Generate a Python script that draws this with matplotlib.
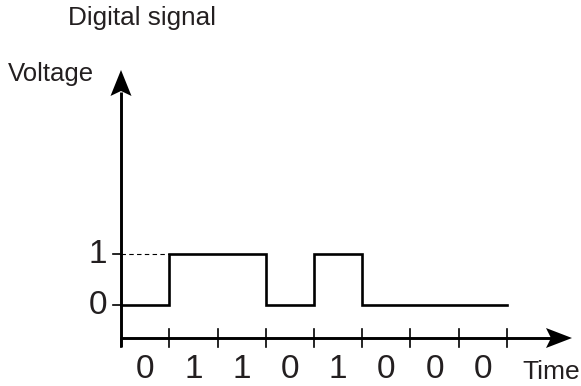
import matplotlib
matplotlib.use("Agg")
import matplotlib.pyplot as plt
from matplotlib.patches import Polygon

bits = [0, 1, 1, 0, 1, 0, 0, 0]
levels = [0, 1]
level_labels = ["0", "1"]
title = "Digital signal"
ylabel = "Voltage"
xlabel = "Time"

plt.rcParams['font.family'] = ['Liberation Sans', 'DejaVu Sans']
txt = '#231f20'

fig = plt.figure(figsize=(5.81, 3.86), dpi=100)
ax = fig.add_axes([0, 0, 1, 1])
ax.set_xlim(-2.508, 9.534)
ax.set_ylim(-1.588, 5.98)
ax.axis('off')

px_x = 1 / 48.25   # data units per pixel (x)
px_y = 1 / 51.0    # data units per pixel (y)
axis_y = -33 * px_y
n = len(bits)

# signal
xs, ys = [], []
for i, b in enumerate(bits):
    xs += [i, i + 1]
    ys += [b, b]
ax.plot(xs, ys, color='black', lw=1.9, solid_joinstyle='miter', zorder=3)

# dashed guide for level 1
ax.plot([0, 1], [1, 1], color='black', lw=0.8, ls=(0, (4, 3)), zorder=2)

# axes lines
x_end = 572 - 121
ax.plot([0, (x_end - 20) * px_x], [axis_y, axis_y], color='black', lw=2.1, zorder=3,
        solid_capstyle='butt')
ax.plot([0, 0], [axis_y - 9 * px_y, (305 - 92) * px_y], color='black', lw=2.1, zorder=3,
        solid_capstyle='butt')

# arrowheads
tip = x_end * px_x
ax.add_patch(Polygon([[tip, axis_y],
                      [(x_end - 26) * px_x, axis_y + 10 * px_y],
                      [(x_end - 21) * px_x, axis_y],
                      [(x_end - 26) * px_x, axis_y - 10 * px_y]],
                     closed=True, color='black', zorder=4, lw=0))
ytip = (305 - 70) * px_y
ax.add_patch(Polygon([[0, ytip],
                      [10.5 * px_x, ytip - 26 * px_y],
                      [0, ytip - 21 * px_y],
                      [-10.5 * px_x, ytip - 26 * px_y]],
                     closed=True, color='black', zorder=4, lw=0))

# x ticks
for i in range(n + 1):
    top = axis_y + (9 * px_y if i > 0 else 0)
    ax.plot([i, i], [axis_y - 9 * px_y, top], color='black', lw=1.2, zorder=3)
# y ticks
for lv in levels:
    ax.plot([-8 * px_x, 0], [lv, lv], color='black', lw=1.2, zorder=3)

# labels
for i, b in enumerate(bits):
    ax.text(i + 0.5, -64 * px_y, str(b), ha='center', va='center', fontsize=24, color=txt)
for lv, lab in zip(levels, level_labels):
    ax.text(-14 * px_x, lv, lab, ha='right', va='center', fontsize=24, color=txt)

ax.text((522 - 121) * px_x, (305 - 372) * px_y, xlabel, ha='left', va='center', fontsize=19, color=txt)
ax.text((8 - 121) * px_x, (305 - 74) * px_y, ylabel, ha='left', va='center', fontsize=18.5, color=txt)
ax.text((68 - 121) * px_x, (305 - 18) * px_y, title, ha='left', va='center', fontsize=18.8, color=txt)

fig.savefig('out.png', dpi=100)
